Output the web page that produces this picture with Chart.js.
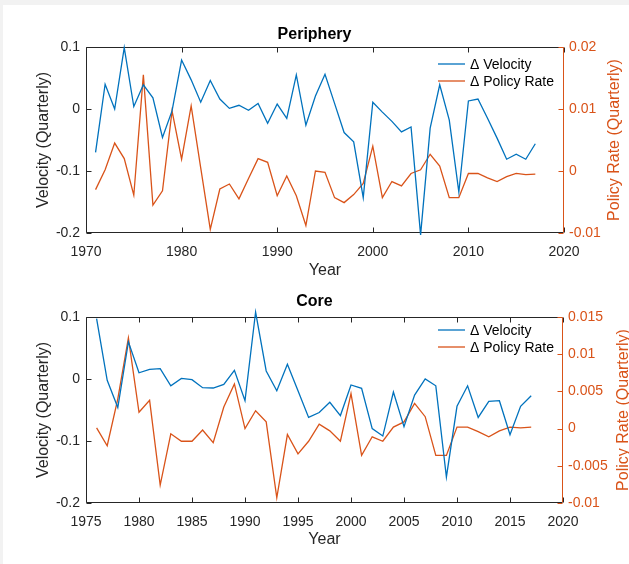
<!DOCTYPE html>
<html>
<head>
<meta charset="utf-8">
<script src="https://cdn.jsdelivr.net/npm/chart.js@4.4.1/dist/chart.umd.min.js"></script>
<style>
  html, body { margin: 0; padding: 0; width: 629px; height: 564px; overflow: hidden; background: #f2f2f2; }
  #sheet { position: absolute; left: 3px; top: 5px; width: 626px; height: 559px; background: #ffffff; }
  canvas { position: absolute; left: 0; }
  #periphery { top: 0; }
  #core { top: 282px; }
</style>
</head>
<body>
<div id="sheet"></div>
<canvas id="periphery" width="629" height="282" style="width:629px;height:282px"></canvas>
<canvas id="core" width="629" height="282" style="width:629px;height:282px"></canvas>
<script>
// ---- Periphery: annual changes, 1971-2017 ----
const periphYears = [1971, 1972, 1973, 1974, 1975, 1976, 1977, 1978, 1979, 1980,
                     1981, 1982, 1983, 1984, 1985, 1986, 1987, 1988, 1989, 1990,
                     1991, 1992, 1993, 1994, 1995, 1996, 1997, 1998, 1999, 2000,
                     2001, 2002, 2003, 2004, 2005, 2006, 2007, 2008, 2009, 2010,
                     2011, 2012, 2013, 2014, 2015, 2016, 2017];
const periphVelocity = [-0.070, 0.040, 0.000, 0.099, 0.004, 0.039, 0.018, -0.046, -0.003, 0.079,
                        0.047, 0.011, 0.046, 0.016, 0.001, 0.006, -0.002, 0.009, -0.023, 0.008,
                        -0.015, 0.055, -0.026, 0.021, 0.056, 0.009, -0.038, -0.053, -0.143, 0.011,
                        -0.005, -0.020, -0.037, -0.029, -0.203, -0.031, 0.039, -0.018, -0.134, 0.013,
                        0.016, -0.015, -0.047, -0.081, -0.073, -0.081, -0.056];
const periphPolicy = [-0.0030, 0.0002, 0.0045, 0.0020, -0.0039, 0.0155, -0.0055, -0.0032, 0.0097, 0.0019,
                      0.0105, 0.0005, -0.0094, -0.0029, -0.0021, -0.0045, -0.0012, 0.0020, 0.0014, -0.0040,
                      -0.0008, -0.0040, -0.0088, 0.0000, -0.0002, -0.0043, -0.0051, -0.0038, -0.0020, 0.0040,
                      -0.0043, -0.0017, -0.0024, -0.0004, 0.0002, 0.0027, 0.0008, -0.0043, -0.0043, -0.0004,
                      -0.0004, -0.0011, -0.0017, -0.0009, -0.0004, -0.0006, -0.0005];

// ---- Core: annual changes, 1976-2017 ----
const coreYears = [1976, 1977, 1978, 1979, 1980, 1981, 1982, 1983, 1984, 1985,
                   1986, 1987, 1988, 1989, 1990, 1991, 1992, 1993, 1994, 1995,
                   1996, 1997, 1998, 1999, 2000, 2001, 2002, 2003, 2004, 2005,
                   2006, 2007, 2008, 2009, 2010, 2011, 2012, 2013, 2014, 2015,
                   2016, 2017];
const coreVelocity = [0.0975, -0.002, -0.046, 0.060, 0.010, 0.0155, 0.0166, -0.011, 0.001, -0.001,
                      -0.014, -0.0145, -0.0086, 0.014, -0.035, 0.108, 0.013, -0.019, 0.0236, -0.019,
                      -0.062, -0.054, -0.0375, -0.059, -0.0096, -0.015, -0.080, -0.092, -0.021, -0.077,
                      -0.026, 0.000, -0.011, -0.158, -0.044, -0.011, -0.062, -0.036, -0.035, -0.090,
                      -0.044, -0.027];
const corePolicy = [0.0001, -0.0023, 0.0040, 0.0122, 0.0022, 0.0038, -0.0076, -0.0007, -0.0017, -0.0017,
                    -0.0002, -0.0019, 0.0029, 0.0060, 0.0000, 0.0024, 0.0009, -0.0093, -0.0008, -0.0034,
                    -0.0017, 0.0006, -0.0003, -0.0017, 0.0047, -0.0036, -0.0011, -0.0017, 0.0002, 0.0009,
                    0.0034, 0.0016, -0.0036, -0.0036, 0.0002, 0.0002, -0.0004, -0.0011, -0.0003, 0.0002,
                    0.0001, 0.0002];

// ---- Tick labels ----
const periphXTicks = [1970, 1980, 1990, 2000, 2010, 2020];
const periphLeftTicks = [-0.2, -0.1, 0, 0.1];
const periphRightTicks = [-0.01, 0, 0.01, 0.02];
const coreXTicks = [1975, 1980, 1985, 1990, 1995, 2000, 2005, 2010, 2015, 2020];
const coreLeftTicks = [-0.2, -0.1, 0, 0.1];
const coreRightTicks = [-0.01, -0.005, 0, 0.005, 0.01, 0.015];

const seriesLabels = ['\u0394 Velocity', '\u0394 Policy Rate'];
const leftAxisTitle = 'Velocity (Quarterly)';
const rightAxisTitle = 'Policy Rate (Quarterly)';
const xAxisTitle = 'Year';

const BLUE = '#0072BD';
const ORANGE = '#D95319';
const INK = '#262626';
const FONT = '"Liberation Sans", Arial, Helvetica, sans-serif';

// Box around the plot area with inward-pointing ticks on all four sides.
const framePlugin = {
  id: 'frame',
  beforeDatasetsDraw(chart) {
    const { ctx, chartArea: a, scales } = chart;
    const L = Math.round(a.left) + 0.5;
    const R = Math.round(a.right) - 0.5;
    const T = Math.round(a.top) + 0.5;
    const B = Math.round(a.bottom) - 0.5;
    const len = 5;
    ctx.save();
    ctx.lineWidth = 1;
    ctx.strokeStyle = INK;
    ctx.beginPath();
    scales.x.ticks.forEach(t => {
      const px = Math.round(scales.x.getPixelForValue(t.value)) + 0.5;
      ctx.moveTo(px, B); ctx.lineTo(px, B - len);
      ctx.moveTo(px, T); ctx.lineTo(px, T + len);
    });
    scales.y.ticks.forEach(t => {
      const py = Math.round(scales.y.getPixelForValue(t.value)) + 0.5;
      ctx.moveTo(L, py); ctx.lineTo(L + len, py);
    });
    ctx.moveTo(L, T); ctx.lineTo(R, T);
    ctx.moveTo(L, B); ctx.lineTo(R, B);
    ctx.moveTo(L, T); ctx.lineTo(L, B);
    ctx.stroke();
    ctx.strokeStyle = ORANGE;
    ctx.beginPath();
    scales.y1.ticks.forEach(t => {
      const py = Math.round(scales.y1.getPixelForValue(t.value)) + 0.5;
      ctx.moveTo(R, py); ctx.lineTo(R - len, py);
    });
    ctx.moveTo(R, T); ctx.lineTo(R, B);
    ctx.stroke();
    ctx.restore();
  }
};

// Right-hand axis title, reading bottom to top.
const sideTitlePlugin = {
  id: 'sideTitle',
  afterDraw(chart, args, opts) {
    const { ctx, chartArea: a } = chart;
    ctx.save();
    ctx.translate(opts.x, (a.top + a.bottom) / 2);
    ctx.rotate(-Math.PI / 2);
    ctx.fillStyle = ORANGE;
    ctx.font = '16px ' + FONT;
    ctx.textAlign = 'center';
    ctx.textBaseline = 'middle';
    ctx.fillText(opts.text, 0, 0);
    ctx.restore();
  }
};

// Small legend inside the plot area (no frame).
const legendPlugin = {
  id: 'lineKey',
  afterDraw(chart, args, opts) {
    const { ctx, chartArea: a } = chart;
    ctx.save();
    ctx.font = '14px ' + FONT;
    ctx.textBaseline = 'middle';
    ctx.textAlign = 'left';
    chart.data.datasets.forEach((ds, i) => {
      const y = a.top + opts.rows[i];
      ctx.strokeStyle = ds.borderColor;
      ctx.lineWidth = 1.3;
      ctx.beginPath();
      ctx.moveTo(opts.x0, y);
      ctx.lineTo(opts.x1, y);
      ctx.stroke();
      ctx.fillStyle = '#000';
      ctx.fillText(ds.label, opts.x1 + 5, y + 1);
    });
    ctx.restore();
  }
};

function fmt(v) { return String(+Number(v).toFixed(4)); }

function buildChart(id, s) {
  const pts = (xs, ys) => xs.map((yr, i) => ({ x: yr, y: ys[i] }));
  return new Chart(document.getElementById(id), {
    type: 'line',
    data: {
      datasets: [
        { label: seriesLabels[0], data: pts(s.years, s.velocity), yAxisID: 'y',
          borderColor: BLUE, borderWidth: 1.3, pointRadius: 0, tension: 0, clip: false },
        { label: seriesLabels[1], data: pts(s.years, s.policy), yAxisID: 'y1',
          borderColor: ORANGE, borderWidth: 1.3, pointRadius: 0, tension: 0, clip: false }
      ]
    },
    options: {
      responsive: false,
      animation: false,
      devicePixelRatio: 1,
      events: [],
      layout: { padding: 0 },
      plugins: {
        legend: { display: false },
        tooltip: { enabled: false },
        title: {
          display: true, text: s.title, color: '#000',
          font: { family: FONT, size: 16, weight: 'bold', lineHeight: 1.2 },
          padding: { top: s.titleTop, bottom: s.titleBottom }
        },
        sideTitle: { text: rightAxisTitle, x: s.sideTitleX },
        lineKey: { x0: 438, x1: 465, rows: s.keyRows }
      },
      scales: {
        x: {
          type: 'linear', position: 'bottom', min: s.xTicks[0], max: s.xTicks[s.xTicks.length - 1],
          afterBuildTicks: sc => { sc.ticks = s.xTicks.map(v => ({ value: v })); },
          afterFit: sc => { sc.height = s.xHeight; },
          grid: { display: false, drawTicks: false },
          border: { display: false },
          ticks: { color: INK, font: { family: FONT, size: 14 }, padding: 11,
                   maxRotation: 0, autoSkip: false, callback: v => String(v) },
          title: { display: true, text: xAxisTitle, color: INK,
                   font: { family: FONT, size: 16, lineHeight: 1.2 },
                   padding: { top: 0, bottom: s.yearBottom } }
        },
        y: {
          position: 'left', min: s.leftTicks[0], max: s.leftTicks[s.leftTicks.length - 1],
          afterBuildTicks: sc => { sc.ticks = s.leftTicks.map(v => ({ value: v })); },
          afterFit: sc => { sc.width = 86; },
          grid: { display: false, drawTicks: false },
          border: { display: false },
          ticks: { color: INK, font: { family: FONT, size: 14 }, padding: 6, callback: fmt },
          title: { display: true, text: leftAxisTitle, color: INK,
                   font: { family: FONT, size: 16, lineHeight: 1.2 },
                   padding: { top: 34, bottom: 0 } }
        },
        y1: {
          position: 'right', min: s.rightTicks[0], max: s.rightTicks[s.rightTicks.length - 1],
          afterBuildTicks: sc => { sc.ticks = s.rightTicks.map(v => ({ value: v })); },
          afterFit: sc => { sc.width = s.rightWidth; },
          grid: { display: false, drawTicks: false },
          border: { display: false },
          ticks: { color: ORANGE, font: { family: FONT, size: 14 }, padding: 5, callback: fmt }
        }
      }
    },
    plugins: [framePlugin, sideTitlePlugin, legendPlugin]
  });
}

buildChart('periphery', {
  title: 'Periphery', years: periphYears, velocity: periphVelocity, policy: periphPolicy,
  xTicks: periphXTicks, leftTicks: periphLeftTicks, rightTicks: periphRightTicks,
  titleTop: 25.4, titleBottom: 2.4, xHeight: 49, yearBottom: 1.4, rightWidth: 65,
  sideTitleX: 615, keyRows: [17, 34]
});

buildChart('core', {
  title: 'Core', years: coreYears, velocity: coreVelocity, policy: corePolicy,
  xTicks: coreXTicks, leftTicks: coreLeftTicks, rightTicks: coreRightTicks,
  titleTop: 10.4, titleBottom: 5.4, xHeight: 61, yearBottom: 14.4, rightWidth: 66,
  sideTitleX: 624, keyRows: [13, 30]
});
</script>
</body>
</html>
